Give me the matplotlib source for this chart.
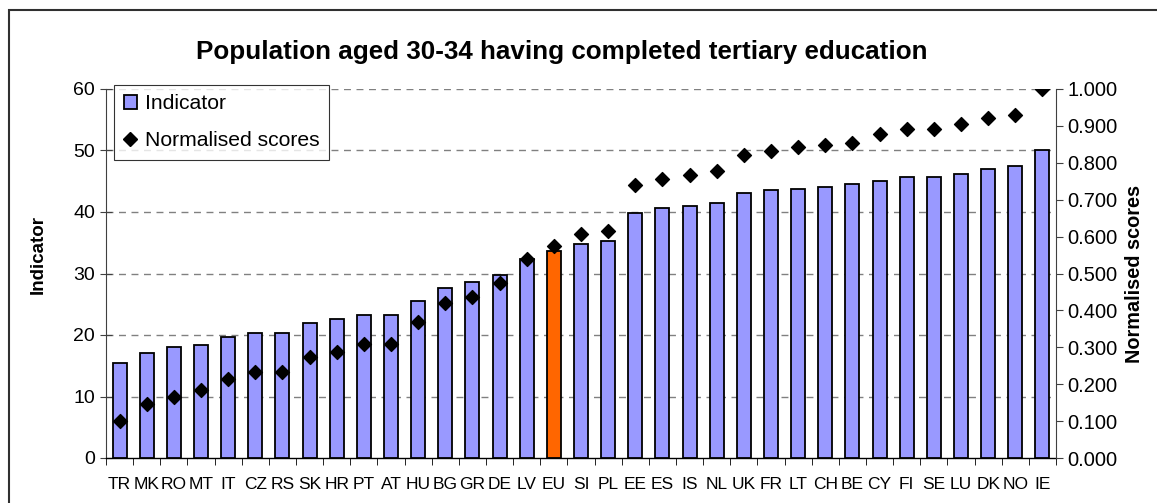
import matplotlib
matplotlib.use("Agg")
import matplotlib.pyplot as plt
from matplotlib.patches import Rectangle
from matplotlib.lines import Line2D
from matplotlib.ticker import FormatStrFormatter

plt.rcParams['font.family'] = ['Liberation Sans', 'DejaVu Sans']

countries = ["TR", "MK", "RO", "MT", "IT", "CZ", "RS", "SK", "HR", "PT", "AT", "HU",
             "BG", "GR", "DE", "LV", "EU", "SI", "PL", "EE", "ES", "IS", "NL", "UK",
             "FR", "LT", "CH", "BE", "CY", "FI", "SE", "LU", "DK", "NO", "IE"]
indicator = [15.5, 17.1, 18.1, 18.4, 19.7, 20.4, 20.4, 22.0, 22.6, 23.3, 23.3, 25.6,
             27.6, 28.6, 29.8, 32.3, 33.6, 34.8, 35.3, 39.9, 40.6, 40.9, 41.5, 43.1,
             43.5, 43.8, 44.1, 44.5, 45.1, 45.7, 45.7, 46.1, 47.0, 47.4, 50.0]
normalised = [0.100, 0.145, 0.165, 0.183, 0.215, 0.232, 0.232, 0.275, 0.287, 0.310, 0.310, 0.368,
              0.420, 0.437, 0.475, 0.540, 0.575, 0.606, 0.615, 0.740, 0.756, 0.768, 0.779, 0.821,
              0.833, 0.842, 0.849, 0.854, 0.877, 0.891, 0.891, 0.904, 0.922, 0.930, 1.000]
highlight = "EU"

W, H = 1157, 503
fig = plt.figure(figsize=(W / 100, H / 100), dpi=100)
L, R, T, B = 106, 1056, 89, 458
ax = fig.add_axes([L / W, 1 - B / H, (R - L) / W, (B - T) / H])

x = list(range(len(countries)))
colors = ["#FF6600" if c == highlight else "#9999FF" for c in countries]
ax.bar(x, indicator, width=0.52, color=colors, edgecolor="black", linewidth=1.3, zorder=3)

ax.set_xlim(-0.5, len(countries) - 0.5)
ax.set_ylim(0, 60)
ax.set_yticks(range(0, 61, 10))
for v in range(10, 61, 10):
    ax.axhline(v, color="#808080", linestyle=(0, (5, 4)), linewidth=1.0, zorder=1)
ax.set_xticks(x)
ax.set_xticklabels(countries, fontsize=12.5)
ax.set_xticks([i - 0.5 for i in range(len(countries) + 1)], minor=True)
ax.tick_params(axis='x', which='major', length=0, pad=14)
ax.tick_params(axis='x', which='minor', length=5, direction='out', color='black')
ax.tick_params(axis='y', length=8, direction='inout', labelsize=14, pad=4, color='#404040')
ax.spines['top'].set_visible(False)
ax.spines['right'].set_visible(False)
ax.spines['bottom'].set_linewidth(1.0)
ax.spines['left'].set_color('#404040')
ax.set_ylabel("Indicator", fontsize=13.5, fontweight='bold')
ax.yaxis.set_label_coords((47 - L) / (R - L), (B - 255) / (B - T))

ax2 = ax.twinx()
ax2.scatter(x, normalised, marker='D', s=50, color='black', zorder=4)
ax2.set_ylim(0, 1.0)
ax2.set_yticks([i / 10 for i in range(11)])
ax2.yaxis.set_major_formatter(FormatStrFormatter('%.3f'))
ax2.tick_params(axis='y', length=5, direction='out', labelsize=14.5, pad=3, color='#404040')
ax2.spines['top'].set_visible(False)
ax2.spines['left'].set_visible(False)
ax2.spines['bottom'].set_visible(False)
ax2.spines['right'].set_color('#404040')
ax2.set_ylabel("Normalised scores", fontsize=14.3, fontweight='bold')
ax2.yaxis.set_label_coords((1125 - L) / (R - L), (B - 274) / (B - T))

fig.text(562 / W, 1 - 52 / H, "Population aged 30-34 having completed tertiary education",
         ha='center', va='center', fontsize=18.7, fontweight='bold')

handles = [Rectangle((0, 0), 1, 1, facecolor="#9999FF", edgecolor="black", linewidth=1.3),
           Line2D([], [], marker='D', color='black', linestyle='None', markersize=7)]
leg = ax.legend(handles, ["Indicator", "Normalised scores"], loc='upper left',
                bbox_to_anchor=((114 - L) / (R - L), (B - 85) / (B - T)), fontsize=15.2,
                frameon=True, fancybox=False, edgecolor='black', handlelength=0.65,
                handleheight=0.65, handletextpad=0.35, borderpad=0.45, labelspacing=0.85,
                borderaxespad=0)
leg.get_frame().set_linewidth(0.8)
leg.set_zorder(10)

fig.patches.append(Rectangle((9 / W, -0.05), 1.2, 1 - 10 / H + 0.05, transform=fig.transFigure,
                             fill=False, edgecolor='#303030', linewidth=1.5))

fig.savefig("out.png", dpi=100)
